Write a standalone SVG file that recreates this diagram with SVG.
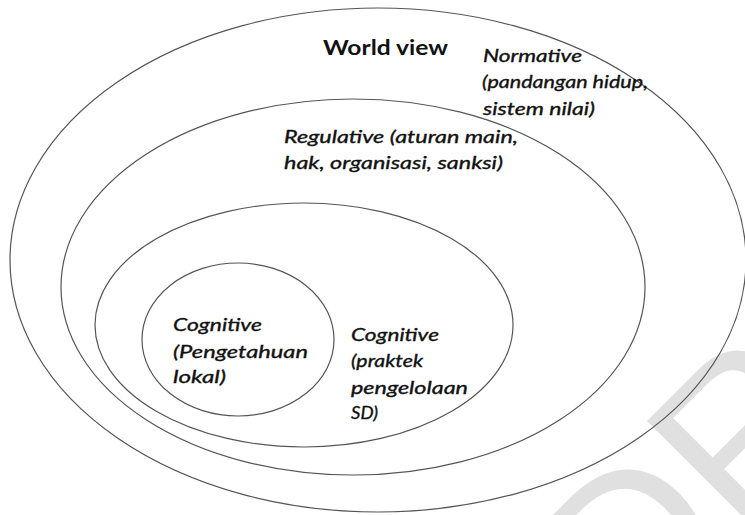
<svg xmlns="http://www.w3.org/2000/svg" width="745" height="515" viewBox="0 0 745 515">
  <style>
    .ring { fill: none; stroke: #555555; stroke-width: 1.2; }
    .lbl { font-family: Lato, "Open Sans", "Liberation Sans", sans-serif; font-style: italic; font-size: 18px; fill: #111111; stroke: #111111; stroke-width: 0.35; }
    .title { font-family: Lato, "Open Sans", "Liberation Sans", sans-serif; font-weight: bold; font-size: 20px; fill: #111111; }
    .wm { font-family: "Liberation Sans", Arial, sans-serif; font-size: 220px; fill: #e0e0e0; }
  </style>
  <rect width="745" height="515" fill="#ffffff"/>
  <text class="wm" x="629" y="653" transform="rotate(-45 629 653)">DRAFT</text>

  <g id="normative">
    <ellipse class="ring" cx="378" cy="260" rx="368" ry="252"/>
    <text class="title" x="323" y="55" textLength="125" lengthAdjust="spacingAndGlyphs">World view</text>
    <text class="lbl" x="483" y="62" textLength="99" lengthAdjust="spacingAndGlyphs">Normative</text>
    <text class="lbl" x="482" y="88" textLength="166" lengthAdjust="spacingAndGlyphs">(pandangan hidup,</text>
    <text class="lbl" x="483" y="115" textLength="112" lengthAdjust="spacingAndGlyphs">sistem nilai)</text>
  </g>

  <g id="regulative">
    <ellipse class="ring" cx="353" cy="287" rx="292" ry="188"/>
    <text class="lbl" x="284" y="143" textLength="234" lengthAdjust="spacingAndGlyphs">Regulative (aturan main,</text>
    <text class="lbl" x="284" y="169" textLength="219" lengthAdjust="spacingAndGlyphs">hak, organisasi, sanksi)</text>
  </g>

  <g id="cognitive-praktek">
    <ellipse class="ring" cx="304" cy="325" rx="209" ry="122"/>
    <text class="lbl" x="351" y="341" textLength="88" lengthAdjust="spacingAndGlyphs">Cognitive</text>
    <text class="lbl" x="351" y="367" textLength="72" lengthAdjust="spacingAndGlyphs">(praktek</text>
    <text class="lbl" x="351" y="394" textLength="117" lengthAdjust="spacingAndGlyphs">pengelolaan</text>
    <text class="lbl" x="351" y="419" textLength="27" lengthAdjust="spacingAndGlyphs">SD)</text>
  </g>

  <g id="cognitive-lokal">
    <ellipse class="ring" cx="238" cy="339.5" rx="96" ry="76.5"/>
    <text class="lbl" x="173" y="331" textLength="89" lengthAdjust="spacingAndGlyphs">Cognitive</text>
    <text class="lbl" x="173" y="358" textLength="135" lengthAdjust="spacingAndGlyphs">(Pengetahuan</text>
    <text class="lbl" x="173" y="383" textLength="53" lengthAdjust="spacingAndGlyphs">lokal)</text>
  </g>
</svg>
